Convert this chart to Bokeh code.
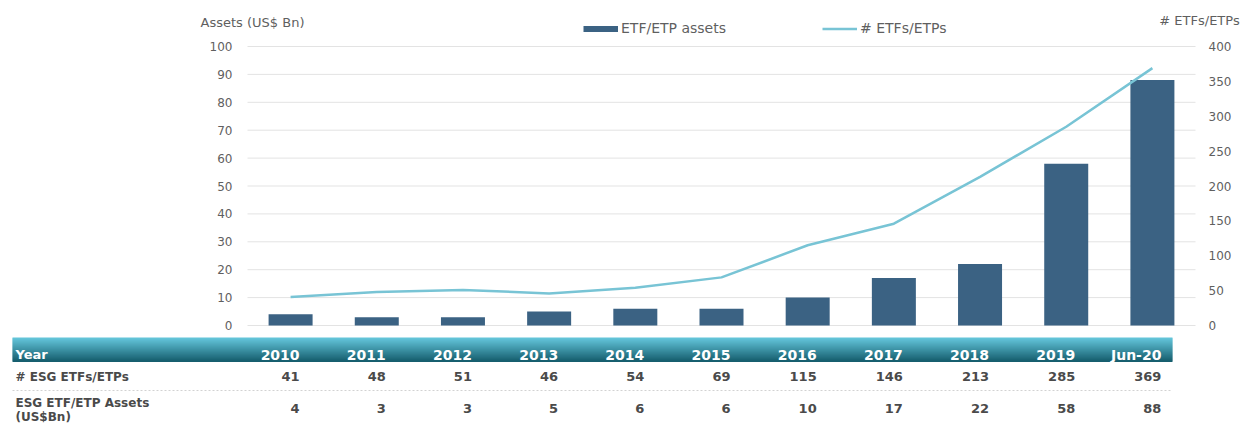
from bokeh.plotting import figure
from bokeh.models import Range1d, LinearAxis, FixedTicker, Legend, LegendItem, ColumnDataSource
from bokeh.embed import file_html
from bokeh.resources import INLINE
from bokeh.core.properties import value

# ---------------- data ----------------
years = ["2010", "2011", "2012", "2013", "2014", "2015", "2016", "2017", "2018", "2019", "Jun-20"]
etf_counts = [41, 48, 51, 46, 54, 69, 115, 146, 213, 285, 369]
assets_bn = [4, 3, 3, 5, 6, 6, 10, 17, 22, 58, 88]
assets_ticks = [0, 10, 20, 30, 40, 50, 60, 70, 80, 90, 100]
count_ticks = [0, 50, 100, 150, 200, 250, 300, 350, 400]
header_label = "Year"
row_label_count = "# ESG ETFs/ETPs"
row_label_assets = ["ESG ETF/ETP Assets", "(US$Bn)"]

# ---------------- style / geometry ----------------
FONT = "DejaVu Sans"
BAR_C = "#3b6283"
LINE_C = "#78c4d5"
GRID_C = "#e3e3e3"
TICK_C = "#5f5f5f"
TBL_TXT = "#4a4a4a"

W, H = 1243, 427
F_L, F_R, F_T, F_B = 247, 1195, 46, 325     # chart plotting box on the page
n = len(years)
unit = (F_R - F_L) / n
ppa = (F_B - F_T) / 100.0
ppc = (F_B - F_T) / 400.0
xs = list(range(n))

src = ColumnDataSource(dict(
    x=xs, year=years, count=etf_counts, assets=assets_bn,
    count_txt=[str(v) for v in etf_counts],
    assets_txt=[str(v) for v in assets_bn],
))

p = figure(width=W, height=H, output_backend="svg", toolbar_location=None,
           x_range=Range1d(-0.5 - F_L / unit, -0.5 + (W - F_L) / unit),
           y_range=Range1d(-(H - F_B) / ppa, F_B / ppa),
           x_axis_location=None, y_axis_location=None,
           min_border_left=0, min_border_right=0, min_border_top=0, min_border_bottom=0)
p.outline_line_color = None
p.grid.visible = False
p.extra_y_ranges = {"count": Range1d(-(H - F_B) / ppc, F_B / ppc), "page": Range1d(H, 0)}
p.extra_x_ranges = {"page": Range1d(0, W)}

la = LinearAxis(ticker=FixedTicker(ticks=assets_ticks), fixed_location=-0.5)
ra = LinearAxis(y_range_name="count", ticker=FixedTicker(ticks=count_ticks), fixed_location=n - 0.5)
p.add_layout(la, "left")
p.add_layout(ra, "right")
for ax, st in ((la, 15), (ra, 13)):
    ax.axis_line_color = None
    ax.major_tick_line_color = None
    ax.minor_tick_line_color = None
    ax.major_tick_out = 0
    ax.major_tick_in = 0
    ax.major_label_standoff = st
    ax.major_label_text_font = FONT
    ax.major_label_text_font_size = "12px"
    ax.major_label_text_color = TICK_C

# grid lines at the assets ticks, across the category span
p.segment(x0=-0.5, x1=n - 0.5, y0=assets_ticks, y1=assets_ticks, line_color=GRID_C, line_width=1)

bars = p.vbar(x="x", top="assets", width=44 / unit, source=src, fill_color=BAR_C, line_color=None)
ln = p.line(x="x", y="count", source=src, y_range_name="count", line_color=LINE_C, line_width=2.5)
proxy = p.line(x="x", y="assets", source=src, line_color=BAR_C, line_width=6, visible=False)

leg = Legend(items=[LegendItem(label="ETF/ETP assets", renderers=[proxy]),
                    LegendItem(label="# ETFs/ETPs", renderers=[ln])],
             orientation="horizontal", location=(583, H - 36.5), padding=0, margin=0,
             spacing=96, glyph_width=35, glyph_height=17, label_height=17, label_standoff=3,
             label_text_font=FONT, label_text_font_size="14px", label_text_color=TICK_C,
             border_line_color=None, background_fill_alpha=0)
p.add_layout(leg)

# axis titles
p.text(x=[252, 1199], y=[22, 20], text=["Assets (US$ Bn)", "# ETFs/ETPs"],
       x_range_name="page", y_range_name="page", text_align="center", text_baseline="middle",
       text_font=value(FONT), text_font_size="13px", text_color=TICK_C)

# ---------------- table ----------------
top_rgb = (100, 198, 219)
bot_rgb = (22, 94, 110)
N = 24
y0s, y1s, cols = [], [], []
for i in range(N):
    f = i / (N - 1)
    c = tuple(int(round(a + (b - a) * f)) for a, b in zip(top_rgb, bot_rgb))
    y0s.append(337 + i)
    y1s.append(338.6 + i)
    cols.append("#%02x%02x%02x" % c)
p.quad(left=12, right=1172, top=y0s, bottom=y1s, fill_color=cols, line_color=None,
       x_range_name="page", y_range_name="page")

p.text(x=[15], y=[354], text=[header_label], x_range_name="page", y_range_name="page",
       text_align="left", text_baseline="middle", text_font=value(FONT), text_font_style="bold",
       text_font_size="13px", text_color="white")
p.text(x="x", y=354, text="year", source=src, y_range_name="page", x_offset=9, text_align="right",
       text_baseline="middle", text_font=value(FONT), text_font_style="bold",
       text_font_size="14px", text_color="white")

p.text(x=[15, 15, 15], y=[376, 402, 416], text=[row_label_count] + row_label_assets,
       x_range_name="page", y_range_name="page", text_align="left", text_baseline="middle",
       text_font=value(FONT), text_font_style="bold", text_font_size="12px", text_color=TBL_TXT)

p.text(x="x", y=376, text="count_txt", source=src, y_range_name="page", x_offset=9,
       text_align="right", text_baseline="middle", text_font=value(FONT), text_font_style="bold",
       text_font_size="13px", text_color=TBL_TXT)
p.text(x="x", y=408, text="assets_txt", source=src, y_range_name="page", x_offset=9,
       text_align="right", text_baseline="middle", text_font=value(FONT), text_font_style="bold",
       text_font_size="13px", text_color=TBL_TXT)

p.segment(x0=12, x1=1172, y0=390, y1=390, x_range_name="page", y_range_name="page",
          line_color="#d2d2d2", line_dash="2 2", line_width=1)

open("out.html", "w").write(file_html(p, INLINE))
